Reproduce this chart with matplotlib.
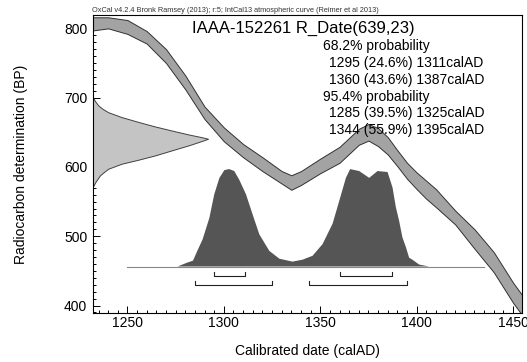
import matplotlib
matplotlib.use('Agg')
import matplotlib.pyplot as plt
from matplotlib.ticker import MultipleLocator

plt.rcParams['font.family'] = ['Liberation Sans', 'DejaVu Sans']

# calibration curve band (IntCal13)
cal_years = [1232, 1240, 1250, 1260, 1270, 1280, 1290, 1300, 1310, 1320, 1330, 1335,
             1340, 1350, 1360, 1370, 1375, 1380, 1385, 1390, 1395, 1400, 1405, 1410,
             1420, 1430, 1440, 1450, 1455]
cal_upper = [816, 816, 812, 796, 770, 732, 687, 657, 633, 614, 594, 588,
             594, 612, 629, 655, 662, 656, 643, 624, 606, 592, 580, 568,
             537, 510, 477, 433, 414]
cal_lower = [797, 800, 792, 778, 750, 712, 669, 637, 614, 594, 576, 567,
             574, 591, 606, 632, 638, 630, 618, 601, 583, 568, 554, 542,
             517, 482, 448, 404, 385]

# measured radiocarbon date profile (BP, width in years)
rdate_bp = [701, 695, 689, 684, 679, 672, 665, 658.5, 652.7, 647, 643, 640.7, 637.3, 631,
            623.8, 616.6, 610.4, 604.6, 597.4, 592, 587.7, 578, 571]
rdate_width = [0, 1.2, 2.8, 5.0, 8.0, 14.9, 23.6, 32.2, 40.8, 49.5, 56.4, 59.8, 56.4, 49.5,
               40.8, 32.2, 23.6, 14.9, 8.0, 5.5, 3.7, 1.3, 0]

# calibrated probability distribution (relative)
post_years = [1250, 1276, 1281, 1284, 1286, 1289, 1292.5, 1295, 1297.7, 1300.3,
              1302.8, 1305.4, 1308, 1311.5, 1315, 1318.4, 1323.6, 1328.8, 1335.6,
              1340.8, 1346, 1351.2, 1356.4, 1359.8, 1363.3, 1365.5, 1370.2, 1375.4,
              1379.7, 1384.9, 1387.5, 1389.2, 1390.9, 1392.6, 1394.4, 1396.1, 1397.8,
              1401.3, 1406.5, 1435]
post_rel = [0, 0, 0.04, 0.06, 0.15, 0.28, 0.50, 0.74, 0.91, 0.99,
            1.00, 0.98, 0.89, 0.74, 0.53, 0.33, 0.16, 0.08, 0.05,
            0.07, 0.11, 0.23, 0.44, 0.67, 0.91, 1.00, 0.98, 0.91,
            0.98, 0.97, 0.81, 0.61, 0.47, 0.30, 0.20, 0.09, 0.07,
            0.02, 0, 0]

ranges_68 = [(1295, 1311), (1360, 1387)]
ranges_95 = [(1285, 1325), (1344, 1395)]

title = 'IAAA-152261 R_Date(639,23)'
prob_lines = ['68.2% probability', '1295 (24.6%) 1311calAD', '1360 (43.6%) 1387calAD',
              '95.4% probability', '1285 (39.5%) 1325calAD', '1344 (55.9%) 1395calAD']
header = 'OxCal v4.2.4 Bronk Ramsey (2013); r:5; IntCal13 atmospheric curve (Reimer et al 2013)'

xmin, xmax = 1232, 1454.5
ymin, ymax = 389, 819
base_bp = 456.3
peak_h = 140.6

fig = plt.figure(figsize=(5.27, 3.62), dpi=100)
ax = fig.add_axes([0.176, 0.135, 0.814, 0.823])
ax.set_xlim(xmin, xmax)
ax.set_ylim(ymin, ymax)

# calibration band
ax.fill_between(cal_years, cal_lower, cal_upper, facecolor='#a3a3a3',
                edgecolor='#303030', linewidth=0.7, zorder=2)

# radiocarbon date on y axis
ax.fill_betweenx(rdate_bp, xmin, [xmin + w for w in rdate_width],
                 facecolor='#c4c4c4', edgecolor='#404040', linewidth=0.7, zorder=2)

# posterior
ax.plot([post_years[0], post_years[-1]], [base_bp, base_bp], color='#888888', lw=0.8, zorder=3)
ax.fill_between(post_years, base_bp, [base_bp + r * peak_h for r in post_rel],
                facecolor='#555555', edgecolor='none', zorder=3)

# range brackets
def bracket(lo, hi, y, h):
    ax.plot([lo, lo, hi, hi], [y + h, y, y, y + h], color='#222222', lw=0.8, zorder=4)

for lo, hi in ranges_68:
    bracket(lo, hi, 443.3, 5.7)
for lo, hi in ranges_95:
    bracket(lo, hi, 429, 7)

# texts
ax.text(0.492, 0.956, title, transform=ax.transAxes, ha='center', va='center',
        fontsize=12, zorder=5)
ys = [0.896, 0.839, 0.782, 0.725, 0.671, 0.614]
for txt, yy in zip(prob_lines, ys):
    xx = 0.537 if 'probability' in txt else 0.551
    ax.text(xx, yy, txt, transform=ax.transAxes, ha='left', va='center',
            fontsize=10, zorder=5)
fig.text(0.175, 0.972, header, ha='left', va='center', fontsize=5.3, color='#333333')

ax.set_xlabel('Calibrated date (calAD)', fontsize=10, labelpad=10)
ax.set_ylabel('Radiocarbon determination (BP)', fontsize=10, labelpad=26)

ax.xaxis.set_major_locator(MultipleLocator(50))
ax.xaxis.set_minor_locator(MultipleLocator(5))
ax.yaxis.set_major_locator(MultipleLocator(100))
ax.yaxis.set_minor_locator(MultipleLocator(10))
ax.tick_params(which='both', direction='in', top=False, right=False, labelsize=10, width=0.7)
ax.tick_params(which='major', length=5)
ax.tick_params(axis='x', which='major', pad=2)
ax.tick_params(axis='y', which='major', pad=4)
ax.tick_params(which='minor', length=2.5)
for s in ax.spines.values():
    s.set_linewidth(0.8)

fig.savefig('out.png', dpi=100)
